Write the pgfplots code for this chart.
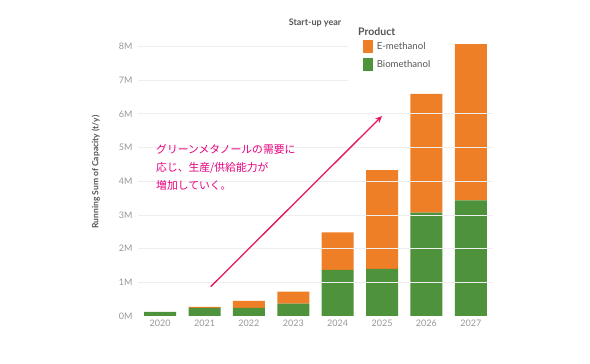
\documentclass[border=0pt]{standalone}
\usepackage{pgfplots}
\pgfplotsset{compat=1.18}
\usepackage{fontspec}
\setmainfont{Lato}
\newfontfamily\cjk{Noto Sans CJK JP}
\usetikzlibrary{arrows.meta}
\definecolor{emeth}{RGB}{239,127,38}
\definecolor{bio}{RGB}{78,146,60}
\definecolor{tickgray}{RGB}{150,150,150}
\definecolor{labgray}{RGB}{85,85,85}
\definecolor{gridc}{RGB}{238,238,238}
\definecolor{pink}{RGB}{230,0,126}
\definecolor{arrowc}{RGB}{232,20,95}
\begin{document}
\begin{tikzpicture}[x=1pt,y=1pt]
\path[use as bounding box] (0pt,0pt) rectangle (590pt,364pt);
\begin{axis}[
  at={(138pt,48pt)}, anchor=south west,
  scale only axis, width=355pt, height=283pt,
  xmin=-0.5, xmax=7.5, ymin=0, ymax=8.4,
  ybar stacked, bar width=0.72,
  axis line style={draw=none}, major tick style={draw=none},
  xtick={0,...,7}, xticklabels={2020,2021,2022,2023,2024,2025,2026,2027},
  ytick={0,...,8}, yticklabels={0M,1M,2M,3M,4M,5M,6M,7M,8M},
  xticklabel style={font=\fontsize{9}{10}\selectfont, text=tickgray},
  yticklabel style={font=\fontsize{9}{10}\selectfont, text=tickgray, xshift=-2pt},
  legend style={at={(axis cs:4.56,8.2)}, anchor=north west, draw=none, fill=none,
    inner sep=0pt, row sep=5pt, font=\fontsize{9.6}{12}\selectfont\color{labgray},
    legend cell align=left, nodes={inner xsep=3.5pt}},
  reverse legend,
  legend image code/.code={\fill[#1] (0pt,-6.5pt) rectangle (10.6pt,6.5pt);},
]
\foreach \k in {1,...,6}{\edef\temp{\noexpand\draw[gridc, line width=0.8pt] (axis cs:-0.5,\k) -- (axis cs:7.5,\k);}\temp}
\draw[gridc, line width=0.8pt] (axis cs:-0.5,7) -- (axis cs:4.23,7);
\draw[gridc, line width=0.8pt] (axis cs:-0.5,8) -- (axis cs:4.23,8);
\addplot[fill=bio, draw=none] coordinates {(0,0.12) (1,0.24) (2,0.24) (3,0.37) (4,1.37) (5,1.40) (6,3.07) (7,3.43)};
\addlegendentry{Biomethanol}
\addplot[fill=emeth, draw=none] coordinates {(0,0) (1,0.03) (2,0.21) (3,0.35) (4,1.11) (5,2.93) (6,3.52) (7,4.64)};
\addlegendentry{E-methanol}
\end{axis}
\node[rotate=90, font=\fontsize{8.5}{10}\selectfont\bfseries, text=labgray] at (95.7pt,192pt) {Running Sum of Capacity (t/y)};
\node[font=\fontsize{9}{10}\selectfont\bfseries, text=labgray] at (315pt,341pt) {Start-up year};
\node[font=\fontsize{10.5}{12}\selectfont\bfseries, text=labgray, anchor=west, inner sep=0pt] at (358pt,332.5pt) {Product};
\node[anchor=north west, align=left, inner sep=0pt, text=pink, font=\cjk\fontsize{10.8}{18.3}\selectfont] at (156pt,220pt) {グリーンメタノールの需要に\\応じ、生産/供給能力が\\増加していく。};
\draw[arrowc, line width=1.3pt, -{Stealth[length=7pt,width=6pt]}] (210.7pt,77.3pt) -- (382pt,248pt);
\end{tikzpicture}
\end{document}
